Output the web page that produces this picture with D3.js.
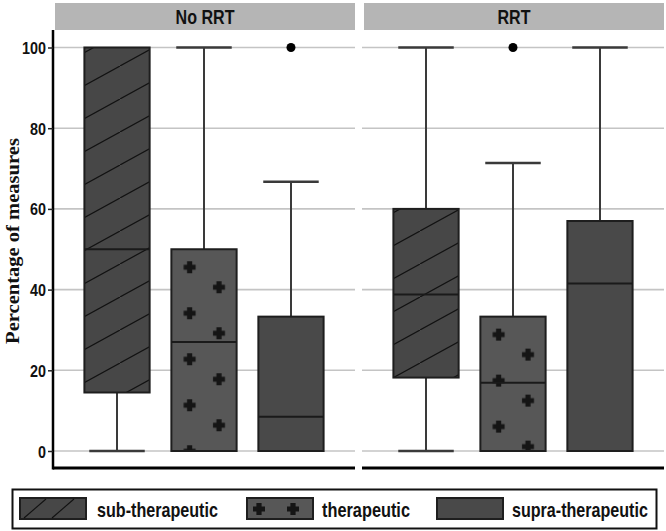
<!DOCTYPE html>
<html><head><meta charset="utf-8">
<script src="https://cdn.jsdelivr.net/npm/d3@7"></script>
<style>body{margin:0;background:#fff}</style>
</head><body>
<svg id="c" width="666" height="531"></svg>
<script>
const panels = ["No RRT", "RRT"];
const categories = ["sub-therapeutic", "therapeutic", "supra-therapeutic"];
const yTicks = [0, 20, 40, 60, 80, 100];
// [min, q1, median, q3, max] per panel, per category
const statsNoRRT = [[0, 14.5, 50, 100, 100], [0, 0, 27, 50, 100], [0, 0, 8.5, 33.3, 66.7]];
const statsRRT   = [[0, 18.2, 38.8, 60, 100], [0, 0, 16.9, 33.3, 71.4], [0, 0, 41.5, 57, 100]];
const outliersNoRRT = [[], [], [100]];
const outliersRRT   = [[], [100], []];

const svg = d3.select("#c");
const W = 666, H = 531;
svg.append("rect").attr("width", W).attr("height", H).attr("fill", "#fff");
const defs = svg.append("defs");

const y = d3.scaleLinear().domain([0, 100]).range([451, 47.5]);
const panelRanges = [[53, 355], [362, 664]];
const panelStats = [statsNoRRT, statsRRT];
const panelOut = [outliersNoRRT, outliersRRT];
const fills = {"sub-therapeutic": "#474747", "therapeutic": "#575757", "supra-therapeutic": "#494949"};
const plotTop = 30, plotBottom = 468;
const sans = "Liberation Sans, Arial, sans-serif";

// place a horizontally fitted text: anchor 'start' | 'middle' | 'end'
function condText(parent, str, x, yy, size, width, anchor, family) {
  const t = parent.append("text").attr("font-family", family || sans).attr("font-weight", "bold")
    .attr("font-size", size).attr("fill", "#111").attr("text-anchor", anchor).text(str);
  const natural = t.node().getComputedTextLength();
  const sx = width / natural;
  t.attr("transform", `translate(${x},${yy}) scale(${sx},1)`);
  return t;
}

// hatch pattern
defs.append("pattern").attr("id", "hatch").attr("patternUnits", "userSpaceOnUse")
  .attr("width", 60).attr("height", 33)
  .call(p => { p.append("rect").attr("width", 60).attr("height", 33).attr("fill", fills["sub-therapeutic"]);
    p.append("line").attr("x1", 0).attr("y1", 33).attr("x2", 60).attr("y2", 0).attr("stroke", "#111").attr("stroke-width", 1.2); });

function plusPath(cx, cy) {
  const a = 2.6, b = 6;
  return `M${cx - a},${cy - b}h${2 * a}v${b - a}h${b - a}v${2 * a}h${-(b - a)}v${b - a}h${-2 * a}v${-(b - a)}h${-(b - a)}v${-2 * a}h${b - a}z`;
}

panels.forEach((pn, pi) => {
  const [x0, x1] = panelRanges[pi];
  const x = d3.scalePoint().domain(categories).range([x0, x1]).padding(0.736);
  const bw = x.step() * 0.75, cw = x.step() * 0.5;
  const g = svg.append("g");
  // strip
  g.append("rect").attr("x", x0 + 2).attr("y", 3).attr("width", x1 - x0 - 2).attr("height", 27).attr("fill", "#b5b5b5");
  condText(g, pn, (x0 + x1) / 2 + 1, 24, 20, pn === "RRT" ? 33 : 59, "middle");
  // grid
  g.selectAll(".grid").data(yTicks).join("line").attr("x1", x0).attr("x2", x1)
    .attr("y1", d => y(d)).attr("y2", d => y(d)).attr("stroke", "#c4c4c4").attr("stroke-width", 1.6);
  const st = panelStats[pi];
  categories.forEach((c, ci) => {
    const [mn, q1, md, q3, mx] = st[ci];
    const cx = x(c);
    const wcol = "#3a3a3a";
    if (mx > q3) {
      g.append("line").attr("x1", cx).attr("x2", cx).attr("y1", y(q3)).attr("y2", y(mx)).attr("stroke", wcol).attr("stroke-width", 2);
      g.append("line").attr("x1", cx - cw / 2 - 6).attr("x2", cx + cw / 2 + 6).attr("y1", y(mx)).attr("y2", y(mx)).attr("stroke", wcol).attr("stroke-width", 2.5);
    }
    if (mn < q1) {
      g.append("line").attr("x1", cx).attr("x2", cx).attr("y1", y(q1)).attr("y2", y(mn)).attr("stroke", wcol).attr("stroke-width", 2);
      g.append("line").attr("x1", cx - cw / 2 - 6).attr("x2", cx + cw / 2 + 6).attr("y1", y(mn)).attr("y2", y(mn)).attr("stroke", wcol).attr("stroke-width", 2.5);
    }
    const bx = cx - bw / 2, by = y(q3), bh = y(q1) - y(q3);
    let fill = fills[c];
    if (c === "sub-therapeutic") fill = "url(#hatch)";
    if (c === "therapeutic") {
      const id = "plus" + pi;
      const th = 46;
      const p = defs.append("pattern").attr("id", id).attr("patternUnits", "userSpaceOnUse")
        .attr("x", bx).attr("y", by).attr("width", bw).attr("height", th);
      p.append("rect").attr("width", bw).attr("height", th).attr("fill", fills[c]);
      p.append("path").attr("d", plusPath(bw * 0.28, 18) + plusPath(bw * 0.73, 38)).attr("fill", "#151515");
      fill = `url(#${id})`;
    }
    g.append("rect").attr("x", bx).attr("y", by).attr("width", bw).attr("height", bh)
      .attr("fill", fill).attr("stroke", "#1e1e1e").attr("stroke-width", 2);
    g.append("line").attr("x1", bx).attr("x2", bx + bw).attr("y1", y(md)).attr("y2", y(md)).attr("stroke", "#1a1a1a").attr("stroke-width", 2);
    panelOut[pi][ci].forEach(o => {
      g.append("circle").attr("cx", cx).attr("cy", y(o)).attr("r", 4.5).attr("fill", "#000");
    });
  });
  g.append("line").attr("x1", x0).attr("x2", x1).attr("y1", plotBottom).attr("y2", plotBottom).attr("stroke", "#000").attr("stroke-width", 3);
});

// y axis
const yAxis = d3.axisLeft(y).tickValues(yTicks).tickSize(5).tickFormat("");
const ya = svg.append("g").attr("transform", "translate(53,0)").call(yAxis);
ya.select(".domain").attr("d", `M0,${plotTop}V${plotBottom + 1.5}`).attr("stroke", "#000").attr("stroke-width", 2.5);
ya.selectAll(".tick line").attr("stroke", "#222").attr("stroke-width", 1.5);
ya.selectAll(".tick").each(function(d) {
  condText(d3.select(this), String(d), -7, 6, 17, String(d).length * 8, "end");
});

condText(svg.append("g").attr("transform", "translate(19,241) rotate(-90)"), "Percentage of  measures", 0, 0, 18, 206, "middle",
  "Liberation Serif, Times New Roman, serif");

// legend
const lg = svg.append("g");
lg.append("rect").attr("x", 12.5).attr("y", 489.5).attr("width", 644).attr("height", 39).attr("fill", "#fff").attr("stroke", "#111").attr("stroke-width", 2);
const keyX = [20, 247, 437], textX = [97, 322, 512], textL = [121, 88, 136];
categories.forEach((c, i) => {
  const kx = keyX[i], ky = 498, kw = 66, kh = 21;
  lg.append("rect").attr("x", kx).attr("y", ky).attr("width", kw).attr("height", kh)
    .attr("fill", fills[c]).attr("stroke", "#1e1e1e").attr("stroke-width", 2);
  if (c === "sub-therapeutic") {
    [[kx + 4, kx + 26], [kx + 32, kx + 54]].forEach(([a, b]) =>
      lg.append("line").attr("x1", a).attr("y1", ky + kh - 1).attr("x2", b).attr("y2", ky + 1).attr("stroke", "#111").attr("stroke-width", 1.1));
  }
  if (c === "therapeutic") {
    lg.append("path").attr("d", plusPath(kx + 12, ky + 11) + plusPath(kx + 46, ky + 11)).attr("fill", "#151515");
  }
  condText(lg, c, textX[i], 517, 20, textL[i], "start");
});
</script>
</body></html>
